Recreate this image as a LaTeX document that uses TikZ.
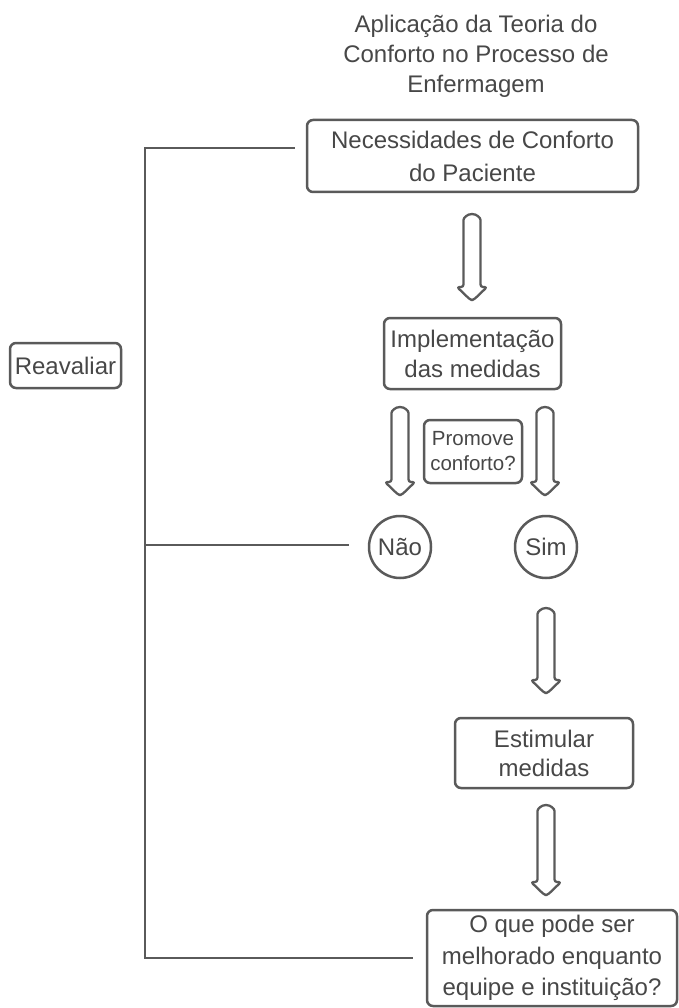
\documentclass[tikz,border=0pt]{standalone}
\usepackage{fontspec}
\setmainfont{Liberation Sans}
\definecolor{ln}{HTML}{5A5A5A}
\definecolor{tx}{HTML}{474747}
\begin{document}
\begin{tikzpicture}[x=1pt,y=-1pt,
  every node/.style={text=tx, font=\fontsize{24}{30}\selectfont, align=center, inner sep=0pt},
  box/.style={draw=ln, line width=2.5pt, rounded corners=6pt},
  circ/.style={draw=ln, line width=2.5pt, circle, minimum size=62pt},
  line/.style={draw=ln, line width=2.6pt},
  harrow/.style={draw=ln, line width=2.3pt, rounded corners=2.5pt, line join=round}]
\useasboundingbox (0,0) rectangle (679,1008);

\node (title) at (476,56) {Aplicação da Teoria do\\Conforto no Processo de\\Enfermagem};
\node[box, minimum width=331pt, minimum height=72pt, font=\fontsize{24}{33}\selectfont] (nec) at (472.5,156) {Necessidades de Conforto\\do Paciente};
\node[box, minimum width=177pt, minimum height=71pt, font=\fontsize{24}{30}\selectfont] (imp) at (472.5,353.5) {Implementação\\das medidas};
\node[box, minimum width=98pt, minimum height=63pt, font=\fontsize{20.5}{25}\selectfont] (prom) at (473,451.5) {Promove\\conforto?};
\node[circ] (nao) at (400,547) {Não};
\node[circ] (sim) at (546,547) {Sim};
\node[box, minimum width=178pt, minimum height=70pt, font=\fontsize{24}{29}\selectfont] (est) at (544,753) {Estimular\\medidas};
\node[box, minimum width=250pt, minimum height=96pt, font=\fontsize{24}{31.5}\selectfont] (q) at (552,958) {O que pode ser\\melhorado enquanto\\equipe e instituição?};
\node[box, minimum width=111pt, minimum height=45pt] (reav) at (65.5,365.5) {Reavaliar};

% hollow block arrows (cx, top, bottom)
\foreach \cx/\tp/\bt in {472/214/300, 400/407/495, 545/407/495, 546/608/693, 546/805/895}{
  \draw[harrow] (\cx-8.5,\bt-13) -- (\cx-8.5,\tp+8.5) arc (180:360:8.5) -- (\cx+8.5,\bt-13)
    -- (\cx+15,\bt-13) -- (\cx+1.5,\bt) -- (\cx-1.5,\bt) -- (\cx-15,\bt-13) -- cycle;
}

% reassessment loop
\coordinate (tl) at (145,148);
\coordinate (bl) at (145,958);
\draw[line] ([xshift=-11pt,yshift=8pt]nec.west) -- (tl) -- (bl) -- ([xshift=-13pt]q.west);
\draw[line] ([xshift=-19pt,yshift=2pt]nao.west) -- ([yshift=2pt]nao.west -| tl);
\end{tikzpicture}
\end{document}
